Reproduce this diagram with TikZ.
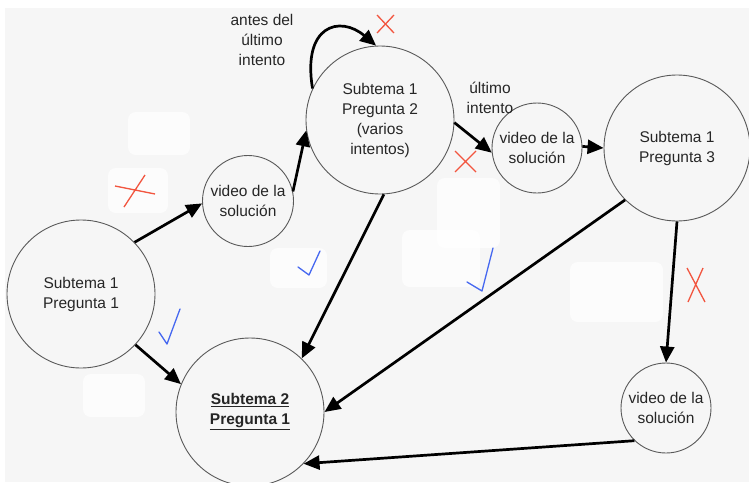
\documentclass[tikz,border=0pt]{standalone}
\usepackage{fontspec}
\setmainfont{Liberation Sans}
\usetikzlibrary{arrows.meta}
\definecolor{bggray}{HTML}{F6F6F6}
\definecolor{xred}{HTML}{F2553F}
\definecolor{ckblue}{HTML}{4668F0}
\begin{document}
\begin{tikzpicture}[x=1pt,y=-1pt,
  circ/.style={circle,draw=black!65,line width=0.9pt,inner sep=0pt,align=center,font=\fontsize{15.5}{20}\selectfont,text=black!85},
  conn/.style={line width=2.7pt,-{Triangle[length=16pt,width=14pt]}},
  penmark/.style={line width=1.3pt},
  patch/.style={fill=white,fill opacity=0.75,draw=none,rounded corners=8pt},
  lbl/.style={align=center,font=\fontsize{15.5}{20}\selectfont,text=black!85}]
\useasboundingbox (0,0) rectangle (749,482);
\fill[white] (0,0) rectangle (749,482);
\fill[bggray] (5,8) rectangle (749,482);
% white patches
\fill[patch] (128,112) rectangle (190,155);
\fill[patch] (108,168) rectangle (168,213);
\fill[patch] (83,374) rectangle (145,417);
\fill[patch] (270,248) rectangle (327,288);
\fill[patch] (437,178) rectangle (500,248);
\fill[patch] (402,230) rectangle (480,287);
\fill[patch] (570,262) rectangle (663,322);
% nodes
\node[circ,minimum size=148pt] (A) at (81,294) {Subtema 1\\Pregunta 1};
\node[circ,minimum size=91pt] (B) at (248,201) {video de la\\solución};
\node[circ,minimum size=148pt] (C) at (380,120) {Subtema 1\\Pregunta 2\\(varios\\intentos)};
\node[circ,minimum size=90pt] (D) at (537,148) {video de la\\solución};
\node[circ,minimum size=146pt] (E) at (677,148) {Subtema 1\\Pregunta 3};
\node[circ,minimum size=148pt] (F) at (250,412) {\textbf{\underline{Subtema 2}}\\\textbf{\underline{Pregunta 1}}};
\node[circ,minimum size=90pt] (G) at (666,408) {video de la\\solución};
% labels
\node[lbl] (L1) at (262,40) {antes del\\último\\intento};
\node[lbl] (L2) at (490,98) {último\\intento};
% connectors
\draw[conn] (A.44) -- (B.183);
\draw[conn] (B.12) -- (C.188);
\draw[conn] (C.155) .. controls (302,25) and (340,15) .. (C.93);
\draw[conn] (C.358) -- (D.186);
\draw[conn] (D.2) -- (E.180);
\draw[conn] (C.273) -- (F.46);
\draw[conn] (E.225) -- (F.0);
\draw[conn] (E.270) -- (G.90);
\draw[conn] (G.226) -- (F.316);
\draw[conn] (A.317) -- (F.158);
% red crosses
\draw[penmark,xred] (115,186) -- (155,194) (124,207) -- (145,175);
\draw[penmark,xred] (377,15) -- (394,33) (394,15) -- (377,33);
\draw[penmark,xred] (455,151) -- (476,172) (476,151) -- (455,172);
\draw[penmark,xred] (687,268) -- (705,302) (703,268) -- (688,302);
% blue checks
\draw[penmark,ckblue,line cap=round,line join=round] (159,332) -- (167,344) -- (180,309);
\draw[penmark,ckblue,line cap=round,line join=round] (298,267) -- (309,275) -- (320,251);
\draw[penmark,ckblue,line cap=round,line join=round] (467,282) -- (482,291) -- (493,248);
\end{tikzpicture}
\end{document}
